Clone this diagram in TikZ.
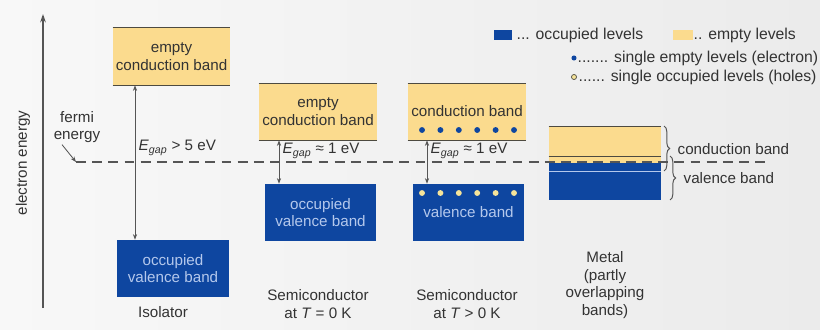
\documentclass[tikz,border=0pt]{standalone}
\usepackage{fontspec}
\setmainfont{Liberation Sans}
\usetikzlibrary{arrows.meta,decorations.pathreplacing}

\definecolor{bandyellow}{HTML}{FBDB8E}
\definecolor{bandblue}{HTML}{0E46A0}
\definecolor{bandtext}{HTML}{B4C8EC}
\definecolor{edgegray}{HTML}{4D4A40}
\definecolor{txtgray}{HTML}{333333}
\definecolor{linegray}{HTML}{555555}
\definecolor{bgleft}{HTML}{F8F8F8}
\definecolor{bgright}{HTML}{EBEBEB}
\definecolor{holeyellow}{HTML}{F6E49A}

\newcommand{\Egap}{\textit{E}\textsubscript{\textit{gap}}}

\begin{document}
\begin{tikzpicture}[x=0.025cm,y=-0.025cm,
    every node/.style={font=\fontsize{10.8}{12.6}\selectfont,text=txtgray,inner sep=1pt},
    cband/.style={fill=bandyellow,inner sep=0pt,align=center},
    vband/.style={fill=bandblue,text=bandtext,inner sep=0pt,align=center},
    bandedge/.style={draw=edgegray,line width=1pt},
    gaparrow/.style={draw=linegray,line width=0.6pt,{Stealth[length=4pt,width=3pt]}-{Stealth[length=4pt,width=3pt]}},
    fermiline/.style={draw=linegray,line width=0.9pt,dash pattern=on 7pt off 4.5pt},
    elec/.style={circle,fill=bandblue,inner sep=0pt,minimum size=4.2pt},
    hole/.style={circle,fill=holeyellow,inner sep=0pt,minimum size=4.2pt},
    legtext/.style={anchor=west,font=\fontsize{11.2}{13}\selectfont},
    bandbrace/.style={draw=linegray,line width=0.7pt,decorate,decoration={brace,amplitude=4pt}}]

    % Sfondo
    \shade[left color=bgleft,right color=bgright] (0,0) rectangle (820,329);
    \useasboundingbox (0,0) rectangle (820,329);

    % Asse dell'energia
    \coordinate (axB) at (43,308);
    \coordinate (axT) at (43,14);
    \draw[linegray,line width=0.9pt,-{Stealth[length=6pt,width=4pt]}] (axB) -- (axT);
    \node[rotate=90] (axlabel) at (23,163) {electron energy};

    % Isolante
    \node[cband,minimum width=2.925cm,minimum height=1.425cm] (isoCB) at (171.5,56.5) {empty\\conduction band};
    \draw[bandedge] (isoCB.north west) -- (isoCB.north east);
    \draw[bandedge] (isoCB.south west) -- (isoCB.south east);
    \node[vband,minimum width=2.8cm,minimum height=1.425cm] (isoVB) at (173,268.5) {occupied\\valence band};
    \coordinate (isoX) at (135,0);
    \draw[gaparrow] (isoCB.south -| isoX) -- (isoVB.north -| isoX);
    \node[anchor=west] (isoGap) at (137,148) {\Egap{} > 5 eV};
    \node (isoName) at (163,312) {Isolator};

    % Semiconduttore a T = 0
    \node[cband,minimum width=2.95cm,minimum height=1.4cm] (semiCB) at (318,112) {empty\\conduction band};
    \draw[bandedge] (semiCB.north west) -- (semiCB.north east);
    \draw[bandedge] (semiCB.south west) -- (semiCB.south east);
    \node[vband,minimum width=2.775cm,minimum height=1.425cm] (semiVB) at (320.5,212.5) {occupied\\valence band};
    \coordinate (semiX) at (279,0);
    \draw[gaparrow] (semiCB.south -| semiX) -- (semiVB.north -| semiX);
    \node[anchor=west] (semiGap) at (281,151) {\Egap{} ≈ 1 eV};
    \node[align=center] (semiName) at (318,304) {Semiconductor\\at \textit{T} = 0 K};

    % Semiconduttore a T > 0
    \node[cband,minimum width=2.95cm,minimum height=1.4cm] (hotCB) at (467,112) {};
    \draw[bandedge] (hotCB.north west) -- (hotCB.north east);
    \draw[bandedge] (hotCB.south west) -- (hotCB.south east);
    \node (hotCBtxt) at (467,111) {conduction band};
    \node[vband,minimum width=2.775cm,minimum height=1.425cm] (hotVB) at (468.5,212.5) {};
    \node[text=bandtext] (hotVBtxt) at (468.5,212) {valence band};
    \foreach \i in {0,...,5}{
        \node[elec] (el\i) at (422+18.4*\i,130) {};
        \node[hole] (ho\i) at (422+18.4*\i,193) {};
    }
    \coordinate (hotX) at (427,0);
    \draw[gaparrow] (hotCB.south -| hotX) -- (hotVB.north -| hotX);
    \node[anchor=west] (hotGap) at (429,151) {\Egap{} ≈ 1 eV};
    \node[align=center] (hotName) at (467,304) {Semiconductor\\at \textit{T} > 0 K};

    % Metallo
    \node[cband,minimum width=2.8cm,minimum height=0.9cm] (metCB) at (605,145) {};
    \node[vband,minimum width=2.8cm,minimum height=0.925cm] (metVB) at (605,181.5) {};
    \draw[bandedge] (metCB.north west) -- (metCB.north east);
    \draw[bandedge] ([yshift=0.175cm]metCB.south west) -- ([yshift=0.175cm]metCB.south east);
    \draw[bandtext,line width=0.8pt] ([yshift=-0.225cm]metVB.north west) -- ([yshift=-0.225cm]metVB.north east);
    \coordinate (cbTop) at (664,126);
    \coordinate (cbBot) at (664,171);
    \coordinate (vbTop) at (670,156);
    \coordinate (vbBot) at (670,200);
    \draw[bandbrace] (cbTop) -- (cbBot);
    \draw[bandbrace] (vbTop) -- (vbBot);
    \node[anchor=west] (metCBlab) at (676,149) {conduction band};
    \node[anchor=west] (metVBlab) at (682,178) {valence band};
    \node[align=center] (metName) at (605,285) {Metal\\(partly\\overlapping\\bands)};

    % Livello di Fermi
    \node[align=center] (fermi) at (77,127) {fermi\\energy};
    \coordinate (fermiL) at (76,162);
    \coordinate (fermiR) at (770,162);
    \draw[linegray,line width=0.6pt,-{Stealth[length=4pt,width=3pt]}] ([xshift=-0.375cm]fermi.south) -- (fermiL);
    \draw[fermiline] (fermiL) -- (fermiR);

    % Legenda
    \node[fill=bandblue,inner sep=0pt,minimum width=0.45cm,minimum height=0.27cm] (legOcc) at (503,35) {};
    \node[legtext] (legOccTxt) at (515,35) {... occupied levels};
    \node[fill=bandyellow,inner sep=0pt,minimum width=0.5cm,minimum height=0.25cm] (legEmp) at (683,35) {};
    \node[legtext] (legEmpTxt) at (692,35) {.. empty levels};
    \node[elec,minimum size=3.6pt] (legEl) at (574,58) {};
    \node[legtext] (legElTxt) at (576,58) {....... single empty levels (electron)};
    \node[hole,draw=edgegray,line width=0.5pt,minimum size=3.6pt] (legHo) at (574,77) {};
    \node[legtext] (legHoTxt) at (577,77) {...... single occupied levels (holes)};

\end{tikzpicture}
\end{document}
